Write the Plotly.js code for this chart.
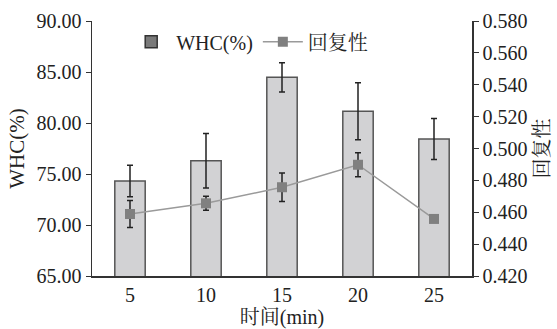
<!DOCTYPE html>
<html>
<head>
<meta charset="utf-8">
<script src="https://cdn.plot.ly/plotly-3.0.1.min.js"></script>
<style>html,body{margin:0;padding:0;background:#fff;}#chart{width:557px;height:329px;}</style>
</head>
<body>
<div id="chart"></div>
<script>
// Data
const times = ['5', '10', '15', '20', '25'];
const whc = [74.31, 76.30, 84.48, 81.15, 78.43];
const whcErr = [1.54, 2.68, 1.43, 2.80, 2.00];
const resilience = [0.4589, 0.4656, 0.4757, 0.4898, 0.4558];
const resilienceErr = [0.0085, 0.0044, 0.0090, 0.0075, 0.0020];
const leftTicks = [65, 70, 75, 80, 85, 90];
const rightTicks = [0.42, 0.44, 0.46, 0.48, 0.50, 0.52, 0.54, 0.56, 0.58];

const FONT = 'Liberation Serif, "Noto Serif CJK SC", "Noto Sans CJK SC", serif';

const traces = [
  {
    type: 'bar', x: times, y: whc, name: 'WHC(%)', width: 0.4,
    marker: {color: '#d2d2d4', line: {color: '#555555', width: 1.5}},
    error_y: {type: 'data', array: whcErr, visible: true, color: '#222222', thickness: 1.5, width: 3},
    showlegend: false
  },
  {
    type: 'bar', x: [null], y: [null], name: 'WHC(%)',
    marker: {color: '#7a7a7a', line: {color: '#333333', width: 1.5}},
    showlegend: true, hoverinfo: 'skip'
  },
  {
    type: 'scatter', mode: 'lines+markers', x: times, y: resilience, name: '回复性', yaxis: 'y2',
    line: {color: '#9a9a9a', width: 1.5},
    marker: {symbol: 'square', size: 10, color: '#808080'},
    error_y: {type: 'data', array: resilienceErr, visible: true, color: '#222222', thickness: 1.5, width: 3}
  }
];

const layout = {
  width: 557, height: 329,
  margin: {l: 92, r: 85, t: 21, b: 53, pad: 0},
  paper_bgcolor: '#ffffff', plot_bgcolor: '#ffffff',
  font: {family: FONT, size: 20, color: '#222222'},
  showlegend: true,
  legend: {orientation: 'h', x: 0.09, y: 0.995, xanchor: 'left', yanchor: 'top',
           bgcolor: 'rgba(0,0,0,0)', font: {family: FONT, size: 20, color: '#222'},
           traceorder: 'normal', itemwidth: 40},
  bargap: 0.6,
  xaxis: {
    type: 'category', categoryorder: 'array', categoryarray: times,
    showline: true, linecolor: '#333333', linewidth: 1.5, ticks: '', showgrid: false, zeroline: false,
    tickfont: {family: FONT, size: 20},
    title: {text: '时间(min)', font: {family: FONT, size: 20}, standoff: 2}
  },
  yaxis: {
    range: [65, 90], tickvals: leftTicks, tickformat: '.2f',
    showline: true, linecolor: '#333333', linewidth: 1.5, ticks: 'outside', ticklen: 5, tickcolor: '#333333',
    showgrid: false, zeroline: false, tickfont: {family: FONT, size: 20},
    title: {text: 'WHC(%)', font: {family: FONT, size: 21}, standoff: 6}
  },
  yaxis2: {
    range: [0.42, 0.58], tickvals: rightTicks, tickformat: '.3f', overlaying: 'y', side: 'right',
    showline: true, linecolor: '#333333', linewidth: 1.5, ticks: 'outside', ticklen: 5, tickcolor: '#333333',
    showgrid: false, zeroline: false, tickfont: {family: FONT, size: 20},
    title: {text: '回复性', font: {family: FONT, size: 20}, standoff: 8}
  }
};

Plotly.newPlot('chart', traces, layout, {displayModeBar: false, staticPlot: true});
</script>
</body>
</html>
